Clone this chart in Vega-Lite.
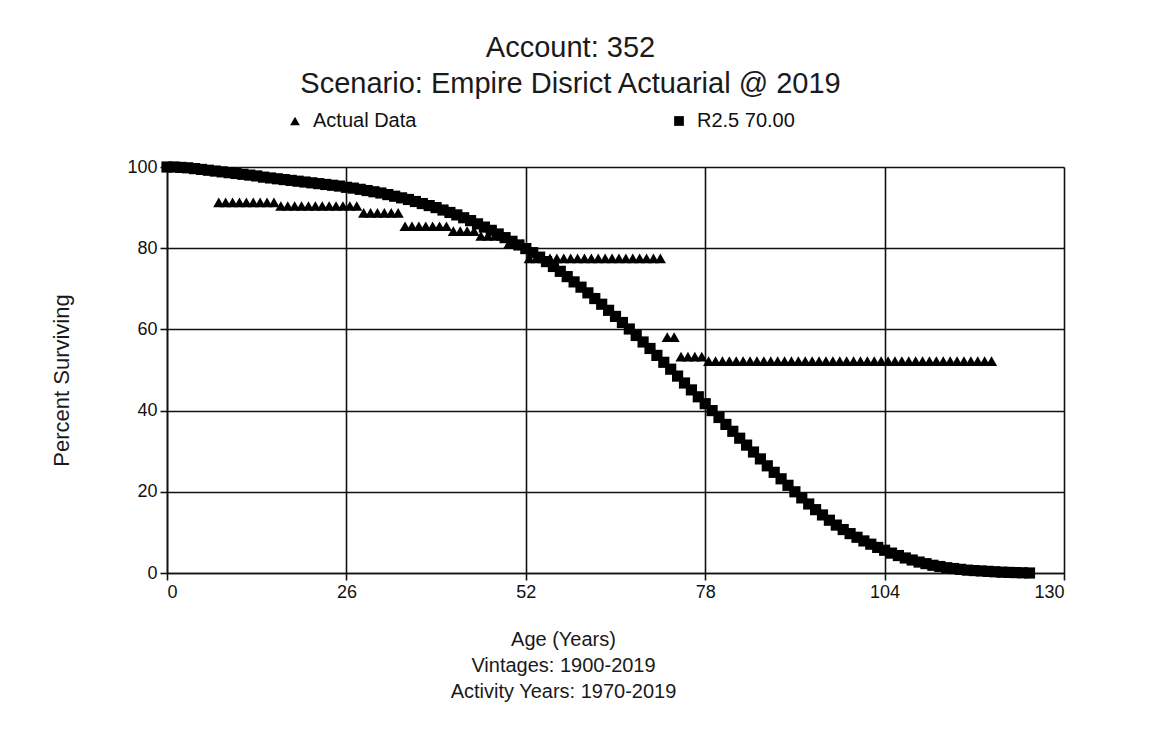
{
  "$schema": "https://vega.github.io/schema/vega-lite/v6.json",
  "autosize": "none",
  "width": 897,
  "height": 406,
  "padding": {"left": 167, "top": 167, "right": 87, "bottom": 159},
  "background": "white",
  "title": {
    "text": ["Account: 352", "Scenario: Empire Disrict Actuarial @ 2019"],
    "font": "Liberation Sans",
    "fontSize": 29,
    "fontWeight": "normal",
    "color": "#1a1a1a",
    "lineHeight": 36,
    "anchor": "middle",
    "dx": -45,
    "offset": 12
  },
  "datasets": {
    "rows": [
      {"age": 7.5, "pct": 91.3, "series": "Actual Data"},
      {"age": 8.5, "pct": 91.3, "series": "Actual Data"},
      {"age": 9.5, "pct": 91.3, "series": "Actual Data"},
      {"age": 10.5, "pct": 91.3, "series": "Actual Data"},
      {"age": 11.5, "pct": 91.3, "series": "Actual Data"},
      {"age": 12.5, "pct": 91.3, "series": "Actual Data"},
      {"age": 13.5, "pct": 91.3, "series": "Actual Data"},
      {"age": 14.5, "pct": 91.3, "series": "Actual Data"},
      {"age": 15.5, "pct": 91.3, "series": "Actual Data"},
      {"age": 16.5, "pct": 90.4, "series": "Actual Data"},
      {"age": 17.5, "pct": 90.4, "series": "Actual Data"},
      {"age": 18.5, "pct": 90.4, "series": "Actual Data"},
      {"age": 19.5, "pct": 90.4, "series": "Actual Data"},
      {"age": 20.5, "pct": 90.4, "series": "Actual Data"},
      {"age": 21.5, "pct": 90.4, "series": "Actual Data"},
      {"age": 22.5, "pct": 90.4, "series": "Actual Data"},
      {"age": 23.5, "pct": 90.4, "series": "Actual Data"},
      {"age": 24.5, "pct": 90.4, "series": "Actual Data"},
      {"age": 25.5, "pct": 90.4, "series": "Actual Data"},
      {"age": 26.5, "pct": 90.4, "series": "Actual Data"},
      {"age": 27.5, "pct": 90.4, "series": "Actual Data"},
      {"age": 28.5, "pct": 88.7, "series": "Actual Data"},
      {"age": 29.5, "pct": 88.7, "series": "Actual Data"},
      {"age": 30.5, "pct": 88.7, "series": "Actual Data"},
      {"age": 31.5, "pct": 88.7, "series": "Actual Data"},
      {"age": 32.5, "pct": 88.7, "series": "Actual Data"},
      {"age": 33.5, "pct": 88.7, "series": "Actual Data"},
      {"age": 34.5, "pct": 85.4, "series": "Actual Data"},
      {"age": 35.5, "pct": 85.4, "series": "Actual Data"},
      {"age": 36.5, "pct": 85.4, "series": "Actual Data"},
      {"age": 37.5, "pct": 85.4, "series": "Actual Data"},
      {"age": 38.5, "pct": 85.4, "series": "Actual Data"},
      {"age": 39.5, "pct": 85.4, "series": "Actual Data"},
      {"age": 40.5, "pct": 85.4, "series": "Actual Data"},
      {"age": 41.5, "pct": 84.2, "series": "Actual Data"},
      {"age": 42.5, "pct": 84.2, "series": "Actual Data"},
      {"age": 43.5, "pct": 84.2, "series": "Actual Data"},
      {"age": 44.5, "pct": 84.2, "series": "Actual Data"},
      {"age": 45.5, "pct": 83.0, "series": "Actual Data"},
      {"age": 46.5, "pct": 83.0, "series": "Actual Data"},
      {"age": 47.5, "pct": 83.0, "series": "Actual Data"},
      {"age": 48.5, "pct": 83.0, "series": "Actual Data"},
      {"age": 49.5, "pct": 81.0, "series": "Actual Data"},
      {"age": 50.5, "pct": 81.0, "series": "Actual Data"},
      {"age": 51.5, "pct": 81.0, "series": "Actual Data"},
      {"age": 52.5, "pct": 77.5, "series": "Actual Data"},
      {"age": 53.5, "pct": 77.5, "series": "Actual Data"},
      {"age": 54.5, "pct": 77.5, "series": "Actual Data"},
      {"age": 55.5, "pct": 77.5, "series": "Actual Data"},
      {"age": 56.5, "pct": 77.5, "series": "Actual Data"},
      {"age": 57.5, "pct": 77.5, "series": "Actual Data"},
      {"age": 58.5, "pct": 77.5, "series": "Actual Data"},
      {"age": 59.5, "pct": 77.5, "series": "Actual Data"},
      {"age": 60.5, "pct": 77.5, "series": "Actual Data"},
      {"age": 61.5, "pct": 77.5, "series": "Actual Data"},
      {"age": 62.5, "pct": 77.5, "series": "Actual Data"},
      {"age": 63.5, "pct": 77.5, "series": "Actual Data"},
      {"age": 64.5, "pct": 77.5, "series": "Actual Data"},
      {"age": 65.5, "pct": 77.5, "series": "Actual Data"},
      {"age": 66.5, "pct": 77.5, "series": "Actual Data"},
      {"age": 67.5, "pct": 77.5, "series": "Actual Data"},
      {"age": 68.5, "pct": 77.5, "series": "Actual Data"},
      {"age": 69.5, "pct": 77.5, "series": "Actual Data"},
      {"age": 70.5, "pct": 77.5, "series": "Actual Data"},
      {"age": 71.5, "pct": 77.5, "series": "Actual Data"},
      {"age": 72.5, "pct": 58.1, "series": "Actual Data"},
      {"age": 73.5, "pct": 58.1, "series": "Actual Data"},
      {"age": 74.5, "pct": 53.3, "series": "Actual Data"},
      {"age": 75.5, "pct": 53.3, "series": "Actual Data"},
      {"age": 76.5, "pct": 53.3, "series": "Actual Data"},
      {"age": 77.5, "pct": 53.3, "series": "Actual Data"},
      {"age": 78.5, "pct": 52.2, "series": "Actual Data"},
      {"age": 79.5, "pct": 52.2, "series": "Actual Data"},
      {"age": 80.5, "pct": 52.2, "series": "Actual Data"},
      {"age": 81.5, "pct": 52.2, "series": "Actual Data"},
      {"age": 82.5, "pct": 52.2, "series": "Actual Data"},
      {"age": 83.5, "pct": 52.2, "series": "Actual Data"},
      {"age": 84.5, "pct": 52.2, "series": "Actual Data"},
      {"age": 85.5, "pct": 52.2, "series": "Actual Data"},
      {"age": 86.5, "pct": 52.2, "series": "Actual Data"},
      {"age": 87.5, "pct": 52.2, "series": "Actual Data"},
      {"age": 88.5, "pct": 52.2, "series": "Actual Data"},
      {"age": 89.5, "pct": 52.2, "series": "Actual Data"},
      {"age": 90.5, "pct": 52.2, "series": "Actual Data"},
      {"age": 91.5, "pct": 52.2, "series": "Actual Data"},
      {"age": 92.5, "pct": 52.2, "series": "Actual Data"},
      {"age": 93.5, "pct": 52.2, "series": "Actual Data"},
      {"age": 94.5, "pct": 52.2, "series": "Actual Data"},
      {"age": 95.5, "pct": 52.2, "series": "Actual Data"},
      {"age": 96.5, "pct": 52.2, "series": "Actual Data"},
      {"age": 97.5, "pct": 52.2, "series": "Actual Data"},
      {"age": 98.5, "pct": 52.2, "series": "Actual Data"},
      {"age": 99.5, "pct": 52.2, "series": "Actual Data"},
      {"age": 100.5, "pct": 52.2, "series": "Actual Data"},
      {"age": 101.5, "pct": 52.2, "series": "Actual Data"},
      {"age": 102.5, "pct": 52.2, "series": "Actual Data"},
      {"age": 103.5, "pct": 52.2, "series": "Actual Data"},
      {"age": 104.5, "pct": 52.2, "series": "Actual Data"},
      {"age": 105.5, "pct": 52.2, "series": "Actual Data"},
      {"age": 106.5, "pct": 52.2, "series": "Actual Data"},
      {"age": 107.5, "pct": 52.2, "series": "Actual Data"},
      {"age": 108.5, "pct": 52.2, "series": "Actual Data"},
      {"age": 109.5, "pct": 52.2, "series": "Actual Data"},
      {"age": 110.5, "pct": 52.2, "series": "Actual Data"},
      {"age": 111.5, "pct": 52.2, "series": "Actual Data"},
      {"age": 112.5, "pct": 52.2, "series": "Actual Data"},
      {"age": 113.5, "pct": 52.2, "series": "Actual Data"},
      {"age": 114.5, "pct": 52.2, "series": "Actual Data"},
      {"age": 115.5, "pct": 52.2, "series": "Actual Data"},
      {"age": 116.5, "pct": 52.2, "series": "Actual Data"},
      {"age": 117.5, "pct": 52.2, "series": "Actual Data"},
      {"age": 118.5, "pct": 52.2, "series": "Actual Data"},
      {"age": 119.5, "pct": 52.2, "series": "Actual Data"},
      {"age": 0, "pct": 100, "series": "R2.5 70.00"},
      {"age": 1, "pct": 100, "series": "R2.5 70.00"},
      {"age": 2, "pct": 99.9, "series": "R2.5 70.00"},
      {"age": 3, "pct": 99.8, "series": "R2.5 70.00"},
      {"age": 4, "pct": 99.6, "series": "R2.5 70.00"},
      {"age": 5, "pct": 99.4, "series": "R2.5 70.00"},
      {"age": 6, "pct": 99.2, "series": "R2.5 70.00"},
      {"age": 7, "pct": 99.0, "series": "R2.5 70.00"},
      {"age": 8, "pct": 98.8, "series": "R2.5 70.00"},
      {"age": 9, "pct": 98.6, "series": "R2.5 70.00"},
      {"age": 10, "pct": 98.4, "series": "R2.5 70.00"},
      {"age": 11, "pct": 98.2, "series": "R2.5 70.00"},
      {"age": 12, "pct": 98.0, "series": "R2.5 70.00"},
      {"age": 13, "pct": 97.8, "series": "R2.5 70.00"},
      {"age": 14, "pct": 97.5, "series": "R2.5 70.00"},
      {"age": 15, "pct": 97.3, "series": "R2.5 70.00"},
      {"age": 16, "pct": 97.1, "series": "R2.5 70.00"},
      {"age": 17, "pct": 96.9, "series": "R2.5 70.00"},
      {"age": 18, "pct": 96.7, "series": "R2.5 70.00"},
      {"age": 19, "pct": 96.5, "series": "R2.5 70.00"},
      {"age": 20, "pct": 96.3, "series": "R2.5 70.00"},
      {"age": 21, "pct": 96.1, "series": "R2.5 70.00"},
      {"age": 22, "pct": 95.9, "series": "R2.5 70.00"},
      {"age": 23, "pct": 95.7, "series": "R2.5 70.00"},
      {"age": 24, "pct": 95.5, "series": "R2.5 70.00"},
      {"age": 25, "pct": 95.3, "series": "R2.5 70.00"},
      {"age": 26, "pct": 95.0, "series": "R2.5 70.00"},
      {"age": 27, "pct": 94.8, "series": "R2.5 70.00"},
      {"age": 28, "pct": 94.5, "series": "R2.5 70.00"},
      {"age": 29, "pct": 94.2, "series": "R2.5 70.00"},
      {"age": 30, "pct": 93.9, "series": "R2.5 70.00"},
      {"age": 31, "pct": 93.6, "series": "R2.5 70.00"},
      {"age": 32, "pct": 93.2, "series": "R2.5 70.00"},
      {"age": 33, "pct": 92.8, "series": "R2.5 70.00"},
      {"age": 34, "pct": 92.4, "series": "R2.5 70.00"},
      {"age": 35, "pct": 92.0, "series": "R2.5 70.00"},
      {"age": 36, "pct": 91.5, "series": "R2.5 70.00"},
      {"age": 37, "pct": 91.0, "series": "R2.5 70.00"},
      {"age": 38, "pct": 90.5, "series": "R2.5 70.00"},
      {"age": 39, "pct": 90.0, "series": "R2.5 70.00"},
      {"age": 40, "pct": 89.4, "series": "R2.5 70.00"},
      {"age": 41, "pct": 88.8, "series": "R2.5 70.00"},
      {"age": 42, "pct": 88.2, "series": "R2.5 70.00"},
      {"age": 43, "pct": 87.5, "series": "R2.5 70.00"},
      {"age": 44, "pct": 86.8, "series": "R2.5 70.00"},
      {"age": 45, "pct": 86.0, "series": "R2.5 70.00"},
      {"age": 46, "pct": 85.2, "series": "R2.5 70.00"},
      {"age": 47, "pct": 84.4, "series": "R2.5 70.00"},
      {"age": 48, "pct": 83.5, "series": "R2.5 70.00"},
      {"age": 49, "pct": 82.6, "series": "R2.5 70.00"},
      {"age": 50, "pct": 81.7, "series": "R2.5 70.00"},
      {"age": 51, "pct": 80.8, "series": "R2.5 70.00"},
      {"age": 52, "pct": 79.9, "series": "R2.5 70.00"},
      {"age": 53, "pct": 78.9, "series": "R2.5 70.00"},
      {"age": 54, "pct": 77.8, "series": "R2.5 70.00"},
      {"age": 55, "pct": 76.7, "series": "R2.5 70.00"},
      {"age": 56, "pct": 75.5, "series": "R2.5 70.00"},
      {"age": 57, "pct": 74.3, "series": "R2.5 70.00"},
      {"age": 58, "pct": 73.0, "series": "R2.5 70.00"},
      {"age": 59, "pct": 71.7, "series": "R2.5 70.00"},
      {"age": 60, "pct": 70.4, "series": "R2.5 70.00"},
      {"age": 61, "pct": 69.0, "series": "R2.5 70.00"},
      {"age": 62, "pct": 67.6, "series": "R2.5 70.00"},
      {"age": 63, "pct": 66.2, "series": "R2.5 70.00"},
      {"age": 64, "pct": 64.7, "series": "R2.5 70.00"},
      {"age": 65, "pct": 63.2, "series": "R2.5 70.00"},
      {"age": 66, "pct": 61.7, "series": "R2.5 70.00"},
      {"age": 67, "pct": 60.1, "series": "R2.5 70.00"},
      {"age": 68, "pct": 58.5, "series": "R2.5 70.00"},
      {"age": 69, "pct": 56.9, "series": "R2.5 70.00"},
      {"age": 70, "pct": 55.3, "series": "R2.5 70.00"},
      {"age": 71, "pct": 53.6, "series": "R2.5 70.00"},
      {"age": 72, "pct": 51.9, "series": "R2.5 70.00"},
      {"age": 73, "pct": 50.2, "series": "R2.5 70.00"},
      {"age": 74, "pct": 48.5, "series": "R2.5 70.00"},
      {"age": 75, "pct": 46.8, "series": "R2.5 70.00"},
      {"age": 76, "pct": 45.1, "series": "R2.5 70.00"},
      {"age": 77, "pct": 43.4, "series": "R2.5 70.00"},
      {"age": 78, "pct": 41.7, "series": "R2.5 70.00"},
      {"age": 79, "pct": 40.0, "series": "R2.5 70.00"},
      {"age": 80, "pct": 38.3, "series": "R2.5 70.00"},
      {"age": 81, "pct": 36.6, "series": "R2.5 70.00"},
      {"age": 82, "pct": 34.9, "series": "R2.5 70.00"},
      {"age": 83, "pct": 33.2, "series": "R2.5 70.00"},
      {"age": 84, "pct": 31.5, "series": "R2.5 70.00"},
      {"age": 85, "pct": 29.8, "series": "R2.5 70.00"},
      {"age": 86, "pct": 28.1, "series": "R2.5 70.00"},
      {"age": 87, "pct": 26.4, "series": "R2.5 70.00"},
      {"age": 88, "pct": 24.8, "series": "R2.5 70.00"},
      {"age": 89, "pct": 23.2, "series": "R2.5 70.00"},
      {"age": 90, "pct": 21.6, "series": "R2.5 70.00"},
      {"age": 91, "pct": 20.0, "series": "R2.5 70.00"},
      {"age": 92, "pct": 18.5, "series": "R2.5 70.00"},
      {"age": 93, "pct": 17.0, "series": "R2.5 70.00"},
      {"age": 94, "pct": 15.6, "series": "R2.5 70.00"},
      {"age": 95, "pct": 14.3, "series": "R2.5 70.00"},
      {"age": 96, "pct": 13.0, "series": "R2.5 70.00"},
      {"age": 97, "pct": 11.8, "series": "R2.5 70.00"},
      {"age": 98, "pct": 10.7, "series": "R2.5 70.00"},
      {"age": 99, "pct": 9.7, "series": "R2.5 70.00"},
      {"age": 100, "pct": 8.8, "series": "R2.5 70.00"},
      {"age": 101, "pct": 7.9, "series": "R2.5 70.00"},
      {"age": 102, "pct": 7.1, "series": "R2.5 70.00"},
      {"age": 103, "pct": 6.3, "series": "R2.5 70.00"},
      {"age": 104, "pct": 5.6, "series": "R2.5 70.00"},
      {"age": 105, "pct": 4.9, "series": "R2.5 70.00"},
      {"age": 106, "pct": 4.3, "series": "R2.5 70.00"},
      {"age": 107, "pct": 3.7, "series": "R2.5 70.00"},
      {"age": 108, "pct": 3.2, "series": "R2.5 70.00"},
      {"age": 109, "pct": 2.7, "series": "R2.5 70.00"},
      {"age": 110, "pct": 2.3, "series": "R2.5 70.00"},
      {"age": 111, "pct": 1.9, "series": "R2.5 70.00"},
      {"age": 112, "pct": 1.6, "series": "R2.5 70.00"},
      {"age": 113, "pct": 1.3, "series": "R2.5 70.00"},
      {"age": 114, "pct": 1.1, "series": "R2.5 70.00"},
      {"age": 115, "pct": 0.9, "series": "R2.5 70.00"},
      {"age": 116, "pct": 0.7, "series": "R2.5 70.00"},
      {"age": 117, "pct": 0.6, "series": "R2.5 70.00"},
      {"age": 118, "pct": 0.5, "series": "R2.5 70.00"},
      {"age": 119, "pct": 0.4, "series": "R2.5 70.00"},
      {"age": 120, "pct": 0.3, "series": "R2.5 70.00"},
      {"age": 121, "pct": 0.2, "series": "R2.5 70.00"},
      {"age": 122, "pct": 0.15, "series": "R2.5 70.00"},
      {"age": 123, "pct": 0.1, "series": "R2.5 70.00"},
      {"age": 124, "pct": 0.05, "series": "R2.5 70.00"},
      {"age": 125, "pct": 0, "series": "R2.5 70.00"}
    ]
  },
  "data": {"name": "rows"},
  "mark": {"type": "point", "filled": true, "opacity": 1, "size": 125, "clip": false},
  "encoding": {
    "x": {
      "field": "age",
      "type": "quantitative",
      "scale": {"domain": [0, 130], "nice": false, "zero": false},
      "axis": {
        "values": [0, 26, 52, 78, 104, 130],
        "title": ["Age (Years)", "Vintages: 1900-2019", "Activity Years: 1970-2019"],
        "titleX": 396,
        "titleY": 56,
        "titleAlign": "center",
        "titleBaseline": "top",
        "titleLineHeight": 26,
        "titleFontSize": 20,
        "labelFontSize": 18,
        "labelPadding": 3,
        "tickSize": 7
      }
    },
    "y": {
      "field": "pct",
      "type": "quantitative",
      "scale": {"domain": [0, 100], "nice": false, "zero": true},
      "axis": {
        "values": [0, 20, 40, 60, 80, 100],
        "title": "Percent Surviving",
        "titleX": -106,
        "titleY": 213,
        "titleAlign": "center",
        "titleBaseline": "middle",
        "titleAngle": -90,
        "titleFontSize": 22,
        "labelFontSize": 18,
        "labelPadding": 3,
        "tickSize": 7
      }
    },
    "shape": {
      "field": "series",
      "type": "nominal",
      "sort": null,
      "scale": {"domain": ["Actual Data", "R2.5 70.00"], "range": ["triangle-up", "square"]},
      "legend": {
        "title": null,
        "orient": "none",
        "direction": "horizontal",
        "legendX": 118,
        "legendY": -56,
        "columnPadding": 252,
        "labelFontSize": 20,
        "labelOffset": 8,
        "symbolSize": 95,
        "symbolFillColor": "black",
        "symbolStrokeColor": "black",
        "symbolStrokeWidth": 0
      }
    },
    "color": {"value": "black"}
  },
  "config": {
    "font": "Liberation Sans",
    "view": {"stroke": null},
    "axis": {
      "grid": true,
      "gridColor": "#111111",
      "gridWidth": 1.6,
      "gridOpacity": 1,
      "domainColor": "#111111",
      "domainWidth": 1.6,
      "tickColor": "#111111",
      "tickWidth": 1.6,
      "labelColor": "#111111",
      "titleColor": "#1a1a1a",
      "titleFontWeight": "normal",
      "labelFont": "Liberation Sans",
      "titleFont": "Liberation Sans"
    },
    "legend": {"labelColor": "#111111", "labelFont": "Liberation Sans"}
  }
}
